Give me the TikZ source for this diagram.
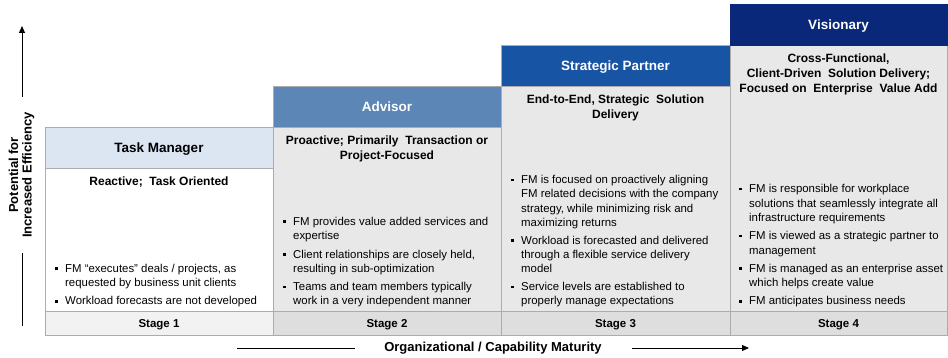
\documentclass[tikz,border=0pt]{standalone}
\usepackage{fontspec}
\setmainfont{Liberation Sans}
\usetikzlibrary{arrows.meta}

\definecolor{tmblue}{RGB}{220,230,242}
\definecolor{advblue}{RGB}{92,134,182}
\definecolor{spblue}{RGB}{24,84,164}
\definecolor{visblue}{RGB}{10,40,122}
\definecolor{bodygray}{RGB}{232,232,232}
\definecolor{stagegray}{RGB}{222,222,222}
\definecolor{stagelight}{RGB}{242,242,242}
\definecolor{framegray}{RGB}{172,172,172}

\newcommand{\bul}{\makebox[10pt][l]{\raisebox{2.4pt}{\rule{2.6pt}{2.6pt}}}}
\newcommand{\indt}{\hspace*{10pt}}

\tikzset{
  hdr/.style={minimum height=41pt, inner sep=0pt, draw=framegray, text=white,
    text height=9.7pt, text depth=0pt, font=\fontsize{13.5}{16}\selectfont\bfseries},
  subhead/.style={anchor=north, align=center, inner sep=0pt,
    font=\fontsize{12}{15}\selectfont\bfseries},
  points/.style={anchor=south west, align=left, inner sep=0pt,
    font=\fontsize{11.4}{14.3}\selectfont},
  stagecell/.style={minimum height=24pt, inner sep=0pt, draw=framegray,
    text height=8.2pt, text depth=0pt, font=\fontsize{11.5}{13}\selectfont\bfseries},
  axislabel/.style={fill=white, inner sep=0pt, align=center,
    font=\fontsize{13}{13.5}\selectfont\bfseries}
}

\begin{document}
\begin{tikzpicture}[x = 1pt, y = -1pt]
    \useasboundingbox (0,0) rectangle (948,358);

    \filldraw[fill=white, draw=framegray] (45,168) rectangle (273,311);
    \filldraw[fill=bodygray, draw=framegray] (273,127) rectangle (501,311);
    \filldraw[fill=bodygray, draw=framegray] (501,86) rectangle (730,311);
    \filldraw[fill=bodygray, draw=framegray] (730,45) rectangle (947,311);

    \node[hdr, fill=tmblue, text=black, minimum width=228pt] (taskmgr) at (159,148) {Task Manager};
    \node[hdr, fill=advblue, minimum width=228pt] (advisor) at (387,107) {Advisor};
    \node[hdr, fill=spblue, minimum width=229pt] (partner) at (615.5,65.5) {Strategic Partner};
    \node[hdr, fill=visblue, draw=visblue, minimum width=217pt] (visionary) at (838.5,24.5) {Visionary};

    \node[subhead] (sub1) at (159,176.5) {Reactive; \ Task Oriented};
    \node[subhead] (sub2) at (387,135.5) {Proactive; Primarily \ Transaction or\\Project-Focused};
    \node[subhead] (sub3) at (615.5,94.5) {End-to-End, Strategic \ Solution\\Delivery};
    \node[subhead] (sub4) at (838.5,53.5) {Cross-Functional,\\Client-Driven \ Solution Delivery;\\Focused on \ Enterprise \ Value Add};

    \node[points] (pts1) at (55,307.5) {\bul FM “executes” deals / projects, as\\\indt requested by business unit clients\\[4pt]
      \bul Workload forecasts are not developed};
    \node[points] (pts2) at (283,307.5) {\bul FM provides value added services and\\\indt expertise\\[4pt]
      \bul Client relationships are closely held,\\\indt resulting in sub-optimization\\[4pt]
      \bul Teams and team members typically\\\indt work in a very independent manner};
    \node[points] (pts3) at (511,307.5) {\bul FM is focused on proactively aligning\\\indt FM related decisions with the company\\\indt strategy, while minimizing risk and\\\indt maximizing returns\\[3.5pt]
      \bul Workload is forecasted and delivered\\\indt through a flexible service delivery\\\indt model\\[3.5pt]
      \bul Service levels are established to\\\indt properly manage expectations};
    \node[points] (pts4) at (739,307.5) {\bul FM is responsible for workplace\\\indt solutions that seamlessly integrate all\\\indt infrastructure requirements\\[4pt]
      \bul FM is viewed as a strategic partner to\\\indt management\\[4pt]
      \bul FM is managed as an enterprise asset\\\indt which helps create value\\[4pt]
      \bul FM anticipates business needs};

    \node[stagecell, fill=stagelight, minimum width=228pt] (stage1) at (159,323) {Stage 1};
    \node[stagecell, fill=stagegray, minimum width=228pt] (stage2) at (387,323) {Stage 2};
    \node[stagecell, fill=stagegray, minimum width=229pt] (stage3) at (615.5,323) {Stage 3};
    \node[stagecell, fill=stagegray, minimum width=217pt] (stage4) at (838.5,323) {Stage 4};

    \coordinate (ylow) at (22,326);
    \coordinate (yhigh) at (22,26);
    \draw[line width=1pt, -{Triangle[length=7pt, width=6pt]}] (ylow) -- (yhigh);
    \node[axislabel, rotate=90, minimum width=156pt, minimum height=43pt] (efficiency) at (21.5,175) {Potential for\\Increased Efficiency};

    \coordinate (xlow) at (237,348);
    \coordinate (xhigh) at (749,348);
    \draw[line width=1pt, -{Triangle[length=7pt, width=6pt]}] (xlow) -- (xhigh);
    \node[axislabel, minimum width=277pt, minimum height=14pt] (maturity) at (493,348) {Organizational / Capability Maturity};
\end{tikzpicture}
\end{document}
